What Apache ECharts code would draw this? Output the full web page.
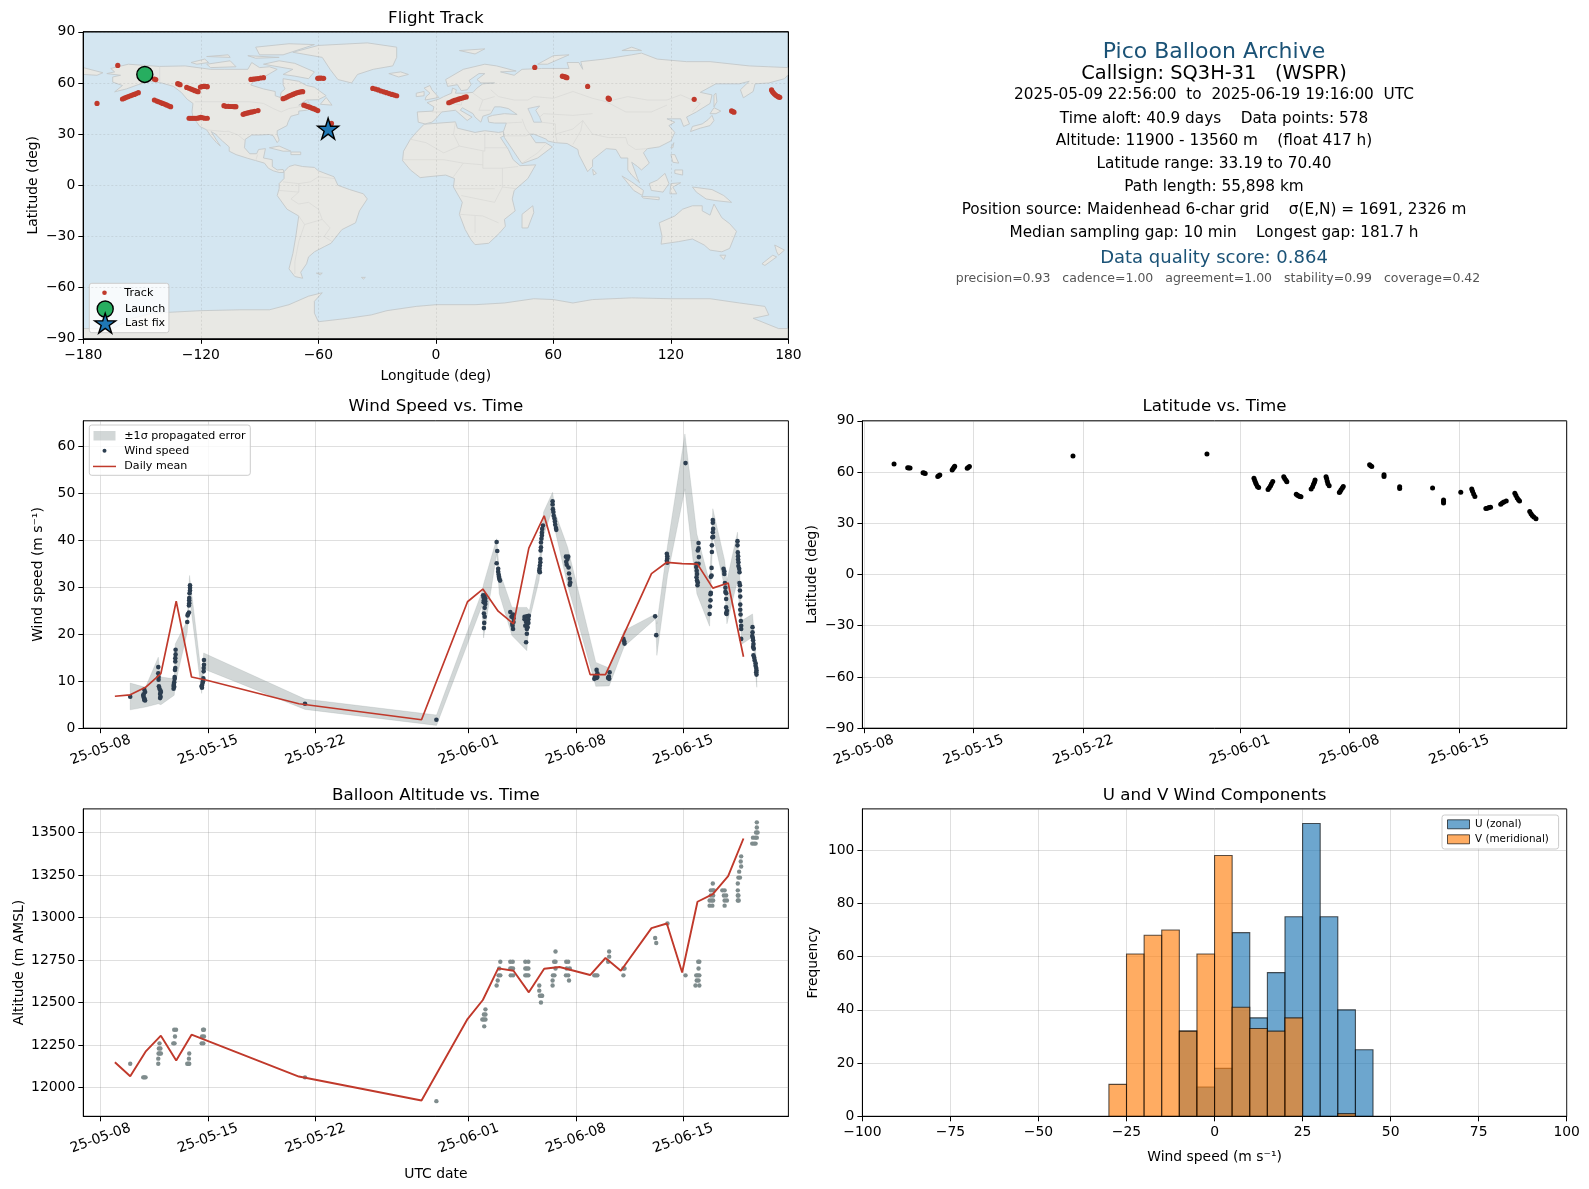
<!DOCTYPE html>
<html><head><meta charset="utf-8">
<style>html,body{margin:0;padding:0;background:#fff}#c{width:1589px;height:1189px}</style>
<script src="https://cdn.jsdelivr.net/npm/echarts@6/dist/echarts.min.js"></script>
</head><body><div id="c"></div>
<script>
const FONT='DejaVu Sans';
// ---------- date ticks (days after 2025-05-08)
const tickDays=[0,7,14,24,31,38];
const tickLabels=['25-05-08','25-05-15','25-05-22','25-06-01','25-06-08','25-06-15'];
const lonTicks=[-180,-120,-60,0,60,120,180];
const latTicks=[-90,-60,-30,0,30,60,90];
const windTicks=[0,10,20,30,40,50,60];
const altTicks=[12000,12250,12500,12750,13000,13250,13500];
const histXTicks=[-100,-75,-50,-25,0,25,50,75,100];
const histYTicks=[0,20,40,60,80,100];

// ---------- map track
const trackPoints=[[-173,48],[-162.4,70.3],[-143.7,62.3],[-143,62],[-131.8,59.6],[-131.2,59.4],[-130.6,59],
[-127.2,57.4],[-126,56.9],[-125,56.4],[-124,56],[-123,55.5],[-122,55.1],[-121.4,54.9],
[-120.2,57.6],[-119.4,57.9],[-118.6,58],[-117.8,58],[-117,57.9],[-116.7,57.8],
[-160,50.6],[-159,51.1],[-158,51.6],[-157,52],[-156,52.5],[-155,52.9],[-154,53.3],[-153,53.8],[-151.9,54.3],
[-143.7,50],[-142.5,49.4],[-141.5,49],[-140.5,48.5],[-139.5,48],[-138.5,47.6],[-137.5,47.1],[-136.5,46.6],[-135.4,46.1],
[-108.2,46.7],[-107.2,46.3],[-106,46.3],[-105,46.2],[-104,46.2],[-103,46.1],[-102.1,46.1],
[-126,39.3],[-125,39.3],[-124,39.3],[-123,39.3],[-122,39.3],[-121,39.5],[-120,39.9],[-119,39.6],[-118,39.3],[-116.7,39.3],
[-98.4,41.6],[-97.5,42],[-96.5,42.3],[-95.5,42.6],[-94.5,42.9],[-93.5,43.1],[-92.5,43.4],[-90.8,43.8],
[-94.4,62.1],[-93.2,62.2],[-92,62.4],[-90.8,62.6],[-89.5,62.9],[-88,63.1],
[-78,50.8],[-77,51.2],[-76,51.7],[-75,52.3],[-74,52.8],[-73,53.3],[-72,53.8],[-71,54.2],[-70,54.5],[-69,54.8],[-68,54.9],
[-67.4,47],[-66.4,46.6],[-65.4,46.2],[-64.4,45.8],[-63.4,45.3],[-62.4,44.9],[-61.4,44.4],[-60.3,43.8],
[-60.3,62.7],[-59.5,62.8],[-58.5,62.8],[-57.3,62.7],
[-32.2,56.8],[-30.8,56.4],[-29.4,55.9],[-28,55.3],[-26.6,54.8],[-25.2,54.3],[-23.8,53.8],[-22.4,53.3],[-21.2,52.9],[-20,52.5],
[6.6,48.4],[7.6,48.8],[8.6,49.3],[9.6,49.8],[10.6,50.1],[11.6,50.5],[12.6,50.9],[13.6,51.2],[14.6,51.6],[15.5,51.8],
[50.5,69.1],[64.6,64],[65.2,63.8],[65.8,63.6],[66.4,63.4],[66.9,63.1],[77.5,58],[88,51.1],[88.3,50.8],[88.6,50.4],
[131.9,50.4],[151,43.6],[151.6,43.2],[152.2,42.9],[171.4,55.9],[171.8,55],[172.3,54.2],[172.9,53.5],[173.6,52.8],[174.4,52.2],[175,51.8],[175.6,51.6],[-53.3,36.3],[-55,33.4]];
const launchPoint=[-148.6,65];
const lastFixPoint=[-55,33.2];

// ---------- land outlines (lon,lat)
const northAmerica=[[-168,65.5],[-164,66.5],[-166,68.5],[-157,71],[-141,69.7],[-128,70],[-115,68],[-108,68],[-96,68],[-94,72],[-90,69],[-85,69.5],[-81,68],[-87,64],[-93,61],[-94.5,58.8],[-88,56.5],[-82,55],[-82,52.5],[-79.5,51.5],[-79,54.5],[-77,56.5],[-78,59],[-78,62.5],[-70,61],[-66,58.5],[-62,57.5],[-56,52.5],[-60,50.2],[-66,50],[-70,47],[-65,49],[-64.5,47],[-61,46],[-66,44],[-70,43.5],[-70,41.7],[-74,40.5],[-75.5,37],[-76,35],[-81,32],[-81,30],[-80,26.5],[-81,25],[-83,29],[-85,29.8],[-90,29.5],[-94,29.5],[-97.3,27],[-97.7,22],[-95,18.5],[-91.5,18.5],[-90.5,21],[-87,21.5],[-88,16],[-83.5,15],[-83.5,11],[-81,9],[-78,9.3],[-77.5,7.5],[-80,7.5],[-83,8.5],[-85.5,10],[-87.5,13],[-92,14.5],[-96,15.8],[-102,18],[-105.5,20],[-105.5,22.5],[-109,26],[-112.5,30],[-114.7,31.5],[-112,26.5],[-110,23],[-112,25],[-115,29],[-117,32.5],[-120.5,34.5],[-124,40],[-124.5,43],[-124,48],[-127,50.5],[-130,54.5],[-134,58],[-140,60],[-146,61],[-152,59],[-158,56.5],[-164,54.8],[-160,58.5],[-165,60.5],[-165,63.5],[-161,64.5]];
const southAmerica=[[-77.5,8],[-75,11],[-72,12],[-68,11],[-62,10.5],[-60,8.5],[-52,5],[-50,0],[-44,-2.5],[-37,-5],[-35,-8],[-39,-15],[-41,-22],[-48,-26],[-53.5,-34],[-57,-36],[-62,-39],[-65,-42],[-66,-46],[-69,-51],[-68,-54.5],[-72,-53.5],[-75,-49],[-73,-40],[-71.5,-30],[-70,-18],[-76,-14],[-81,-6],[-80,-2],[-80,1],[-77.5,4]];
const africa=[[-6,35.8],[10,37.2],[11,33.5],[20,31],[25,32],[32,31],[34.5,31.5],[34.8,29],[33,28],[37,21],[39.5,15],[43,11.5],[51,12],[47,4],[40,-3],[39,-8],[40.5,-15],[35,-20],[35.5,-24],[32.5,-28],[27,-34],[20,-34.8],[18,-32],[15,-26],[12,-17],[13.5,-10],[9,-1],[9.5,4],[5,6],[-4,5],[-8,4.5],[-13,9],[-17,14.5],[-16.5,20],[-13,27],[-10,31]];
const eurasia=[[-9,37],[-9.5,43],[-1.5,43.5],[-1,46],[-4.5,48.5],[1.5,50.5],[4,52],[8,54],[8.5,57],[10.5,56],[10,54],[14,54],[19,54.5],[21,57],[24,59.5],[30,60],[23,60],[21,62],[25,65.5],[22,65.5],[17,61.5],[18,59],[16,56],[13,55.5],[11,59],[6,58],[5,62],[14,68],[25,71],[31,70],[41,67],[33,66.5],[40,64.5],[44,68],[54,68.5],[68,68.5],[67,72],[73,72],[75,68],[74,72.5],[86,74],[100,76.5],[105,77.5],[113,74],[128,72.5],[140,72.5],[160,70],[170,69.5],[180,69],[180,65],[178,62.5],[170,60],[163,59.5],[162,55],[157,51.3],[155.5,56],[160,61],[155,59.5],[143,59.5],[135,54.5],[141,53],[140,48],[133,43],[128,40],[129.5,36],[126.5,34.5],[125,39],[121,39],[118,39],[122,37],[119,35],[122,31],[120,26],[114,22.5],[108,21.5],[106,19],[109,13],[105,9],[103,11],[100,13.5],[103,4],[104,1.5],[100,6],[98,9],[98,16],[94.5,16],[92,21],[87,21.5],[80,15],[80,11],[77.5,8],[73,18],[72.5,21],[67,24.5],[61,25],[57,26],[56.5,27],[50,30],[48,30],[51,25],[56,25],[59.5,22.5],[52,16],[44,12.7],[42,16],[35,28],[34.5,31.5],[36,36.5],[30,36.5],[27,37],[26.5,40],[29,41],[35,42],[41.5,41.5],[37,45],[33,46],[30,46],[28,42],[24,40.5],[23,37],[20,40],[19,42],[13.5,45.5],[12.5,44],[18.5,40],[16,38],[10,44],[3,43],[0,39],[-2,37],[-5.5,36]];
const chukotkaWest=[[-180,69],[-170,66],[-173,64.5],[-180,65]];
const greenland=[[-73,78],[-60,82],[-35,83.5],[-20,81],[-20,75],[-22,70],[-32,68],[-40,65],[-43,60],[-50,62],[-54,68],[-58,75]];
const australia=[[114,-22],[122,-18],[126,-14],[131,-12],[136,-12],[136,-15],[140,-17.5],[142,-11],[146,-19],[150,-22.5],[153.5,-27],[150,-37],[146,-39],[140,-38],[137,-35],[131,-31.5],[124,-33],[115,-34.5],[115.5,-30]];
const antarctica=[[-180,-84],[-165,-84],[-155,-78],[-145,-75],[-120,-73.5],[-100,-73],[-85,-73],[-75,-70],[-65,-65],[-58,-63],[-62,-68],[-62,-75],[-60,-80],[-45,-78],[-33,-76],[-25,-73.5],[-10,-71],[0,-70],[20,-70],[35,-69],[50,-66.5],[60,-67],[70,-69],[80,-67],[100,-66],[120,-66.5],[140,-66.5],[155,-69],[168,-71],[170,-76],[162,-78],[175,-84],[180,-84],[180,-90],[-180,-90]];
const islands=[
[[-80,73],[-72,71.5],[-62,66.5],[-65,62.5],[-72,64],[-78,65],[-73,68],[-88,71]],
[[-117,71],[-105,73],[-102,69.5],[-115,69]],
[[-90,76.5],[-78,76.5],[-62,82.5],[-75,83],[-92,81]],
[[-125,72],[-118,74],[-116,72],[-122,71]],
[[-96,76],[-80,75],[-92,74.5]],
[[-117,75.5],[-106,76.5],[-105,75]],
[[-59,47.5],[-53,47],[-56,51.5]],
[[-24,65.5],[-18,66.5],[-14,65],[-19,63.5]],
[[-5.5,50],[1.5,51.5],[-2,56],[-3,58.5],[-6,57],[-3,54],[-5,52]],
[[-10,52],[-6,52.5],[-6,55],[-10,54]],
[[12,79],[25,80],[20,77]],
[[52,71],[57,71],[68,76.5],[60,76]],
[[95,79],[105,79],[100,81]],
[[130,31.5],[131,34.5],[136,36],[139,38.5],[141,41],[142,38],[140,35],[135,33.5]],
[[140,42],[142,45.5],[145.5,43.5],[143,42]],
[[142,46],[143.5,49],[143,54],[142,53]],
[[120,22],[121.5,25],[121,22]],
[[80,9.5],[82,7],[80.5,6]],
[[120,18],[122,18],[124,13],[121,13.5]],
[[122,9],[126,9],[126,6],[122,7]],
[[109,1],[113,3],[117,7],[119,1],[116,-4],[110,-3]],
[[95,5.5],[100,2],[106,-3],[105.5,-6],[101,-3]],
[[105,-6.5],[114,-7],[114,-8.5],[106,-7.5]],
[[119.5,-5],[120,1],[125,1.5],[121,-1],[123,-5]],
[[131,-1],[141,-2.5],[147,-6],[151,-10],[143,-9],[138,-8],[133,-4]],
[[145,-41],[148,-41],[147,-43.5]],
[[173,-35],[178,-38],[175,-41],[174,-39]],
[[172,-41],[174,-42],[168,-47],[166.5,-46]],
[[49.5,-12],[50,-16],[47,-25],[44,-25],[44,-17]],
[[-85,22],[-80,23],[-74,20],[-78,20]],
[[-74,19.5],[-69,19.5],[-69,18],[-74,18]],
[[-61,-51.5],[-58,-51.5],[-59,-52.5]],
[[-38,-54],[-36,-54],[-37,-55]]];
const caspianSea=[[47,45],[53,46.5],[51,44],[53,40],[54,37],[50,37],[49,40]];
const landPolygons=[northAmerica,southAmerica,africa,eurasia,chukotkaWest,greenland,australia,antarctica,...islands];
const borders=[
[[-123,49],[-95,49],[-88,48],[-83,45],[-79,43],[-75,45],[-70,46],[-67,47],[-67,45]],
[[-141,69.7],[-141,60]],
[[-117,32.5],[-108,31.5],[-106,31.7],[-101,29.5],[-97.3,26]],
[[-92,14.5],[-91,18]],
[[-52,4],[-60,5],[-64,2],[-70,1],[-70,-4],[-74,-8],[-70,-11],[-65,-10],[-60,-14],[-58,-20],[-54,-25],[-57,-30],[-53,-33]],
[[-70,-18],[-67,-23],[-70,-33],[-72,-45],[-72,-52]],
[[-58,-20],[-67,-23]],[[-70,1],[-78,2]],[[-70,-4],[-80,-3]],
[[10,37],[9,30],[12,23],[25,20],[25,31]],[[25,22],[37,22]],[[24,20],[24,10],[34,10]],[[34,10],[34,-1],[30,-10],[13,-6]],
[[12,23],[4,19],[-5,25],[-13,27]],[[-17,15],[4,15],[14,13],[24,12]],[[14,13],[9,5]],[[10,-2],[30,-2]],
[[12,-17],[24,-18],[32,-22]],[[20,-28],[20,-18]],[[34,10],[42,11]],[[34,-1],[41,-2]],
[[28,56],[32,52],[40,50],[47,50],[50,52],[60,51],[70,55],[80,51],[87,49],[98,52],[108,50],[118,50],[125,53],[135,48],[131,43]],
[[87,49],[97,43],[110,43],[118,47]],[[75,38],[80,30],[88,28],[97,28],[98,24],[102,21],[108,21.5]],
[[62,25],[61,30],[70,33],[75,38],[74,32],[70,24]],[[44,39],[46,33],[48,30]],[[61,30],[61,36],[54,37]],
[[5,50],[8,48],[13,47],[14,54]],[[19,54],[24,50],[22,44],[28,44]],[[24,50],[30,52]],[[36,36.5],[44,37]],
[[35,29],[46,29],[48,30]],[[44,13],[52,19],[56,24]],[[-2,43],[3,43]],[[80,42],[70,41],[55,42],[53,40]]];

// ---------- wind speed
const windPoints=[[1.93,6.7],[2.85,8.2],[2.9,7.7],[2.8,7.2],[2.78,6.9],[2.82,6.5],[2.87,6.2],[2.9,5.9],[2.85,6.0],
[3.76,13.0],[3.76,11.7],[3.78,10.9],[3.78,10.3],[3.8,8.9],[3.84,8.4],[3.9,8.0],[3.93,7.7],[3.88,7.3],[3.91,6.7],[3.88,6.4],
[4.89,16.7],[4.89,15.7],[4.87,14.9],[4.87,14.2],[4.87,12.8],[4.85,12.4],[4.83,10.9],[4.83,10.5],[4.8,9.8],[4.78,9.4],[4.76,9.0],[4.76,8.4],[4.8,8.8],
[5.83,30.4],[5.83,29.9],[5.83,29.3],[5.8,28.7],[5.78,27.7],[5.78,27.2],[5.78,26.6],[5.76,26.1],[5.76,24.6],[5.7,24.3],[5.67,24],[5.65,22.6],
[6.74,14.5],[6.74,13.5],[6.72,12.8],[6.72,12.1],[6.7,10.6],[6.68,10],[6.65,9.6],[6.61,9.1],[6.59,8.9],[6.61,8.6],
[13.33,5.2],[21.9,1.8],
[24.95,28.3],[25.05,28.2],[24.98,27.8],[25.09,27.6],[25,27.2],[25.09,27],[24.98,26.8],[25.09,26.4],[25.05,25.6],[25,24.4],[25.05,23.7],[25.02,22.4],[25,21.3],
[25.83,39.6],[25.87,37.7],[25.83,35.1],[25.93,33.9],[25.93,33.3],[25.96,32.7],[25.98,32.2],[26,31.8],[26.05,31.4],
[26.72,24.7],[26.9,24.2],[26.8,23.7],[26.93,23.4],[26.93,22.6],[26.85,22.2],[26.87,21.8],[26.9,21.1],
[27.65,23.7],[27.8,23.8],[27.93,23.9],[27.65,23.2],[27.9,23.2],[27.75,22.6],[27.9,22.4],[27.7,21.8],[27.85,21.5],[27.8,21.1],[27.8,20.1],[27.75,18.3],
[28.85,43.1],[28.8,42.4],[28.78,41.6],[28.78,41],[28.75,40.3],[28.72,39.5],[28.72,38.5],[28.7,37.8],[28.68,36],[28.68,35.3],[28.65,34.6],[28.63,34],[28.61,33.5],[28.65,33.2],
[29.48,48.3],[29.48,47.6],[29.5,46.6],[29.53,46],[29.55,45.2],[29.6,44.6],[29.63,44],[29.65,43.3],[29.7,42.6],[29.72,42.2],
[30.35,36.5],[30.5,36.5],[30.45,36],[30.37,35.4],[30.4,34.8],[30.52,34.2],[30.55,32.9],[30.6,31.8],[30.63,31],[30.6,30.5],
[32.35,12.4],[32.4,11.7],[32.25,11],[32.35,10.7],[32.2,10.5],[32.4,10.9],[33.2,11.9],[33.15,11],[33.1,10.7],[33.17,10.5],
[34.1,19],[34.15,18.5],[34.17,18],[36.17,23.8],[36.24,19.8],
[36.93,37.1],[36.96,36.6],[36.96,36.1],[36.93,35.6],[36.96,35.2],[38.15,56.4],
[39,39.4],[39,38.3],[38.95,37.8],[39.02,36.4],[39,35],[38.85,35],[38.85,34.3],[38.88,33.5],[38.9,32.8],[38.87,32.1],[38.9,31.4],[38.93,30.4],[38.95,31],
[39.93,44.3],[39.93,43.7],[39.95,42.4],[39.93,41.7],[39.95,40.7],[39.9,40.6],[39.87,38.9],[39.87,37.5],[39.85,34.1],[39.85,32.5],[39.8,32.2],[39.8,28.8],[39.78,28.5],[39.78,27.2],[39.75,25.9],[39.72,24.3],
[40.63,33.9],[40.68,33.4],[40.68,32.8],[40.72,30.9],[40.75,29.9],[40.75,29],[40.8,28.7],[40.8,27.5],[40.8,25.7],[40.85,25],[40.8,24.5],[40.83,24.3],
[41.54,39.8],[41.54,38.9],[41.56,37.4],[41.58,36.6],[41.58,35.9],[41.6,35.3],[41.6,34.5],[41.65,33.9],[41.67,33.2],[41.67,30.9],[41.7,30.4],[41.7,29.3],[41.72,28],[41.72,26.3],[41.72,25.2],[41.74,24.2],[41.76,22.8],[41.78,21.8],[41.78,21.1],[41.78,19],
[42.52,21.5],[42.52,20.4],[42.5,19.6],[42.54,19.2],[42.56,18.7],[42.58,17.9],[42.56,17.3],[42.6,16.9],[42.58,15.5],[42.63,15],[42.66,14.4],[42.72,13.8],[42.72,13.3],[42.76,12.8],[42.78,12.3],[42.76,11.9],[42.78,11.4]];
const windMean=[[0.93,6.8],[1.93,7.1],[2.93,8.7],[3.93,11.6],[4.93,27],[5.93,10.9],[6.93,10.2],[12.93,5.2],[20.93,1.8],[23.93,26.9],[24.93,29.6],[25.93,24.9],[26.93,22.2],[27.93,38.3],[28.93,45.2],[31.93,11.4],[32.93,11.4],[35.93,32.9],[36.93,35.3],[37.93,35],[38.93,34.9],[39.93,29.8],[40.93,30.9],[41.93,15.2]];
const bandDays=[1.93,2.93,3.76,3.93,4.8,4.87,5.65,5.8,6.59,6.72,13.33,21.91,24.87,24.98,25.83,26,26.83,27.8,27.96,28.6,28.89,29.48,29.67,30.46,32.3,33.17,34.15,36.2,36.28,36.98,38.11,38.89,39.72,39.93,40.7,40.85,41.54,41.83,42.52,42.8];
const bandLow=[3.9,4.5,5.2,5,7,9.4,20.4,27.9,7.4,12.6,4,0.6,26,19.2,37.1,28.6,19.7,16.5,22.9,31.5,41,46.7,41.7,30.4,8.9,9,17.4,23.3,15.5,32.5,50.9,28.6,21.7,41.3,30,22.2,31.4,17.9,19.4,8.7];
const bandHigh=[9.6,8.7,15.1,10.9,10.5,17.9,22.9,32.5,10.9,16,6.2,2.8,29,30.7,40.3,33.5,25.7,25.7,25,35,46,50.2,45.6,38.5,14,12.8,20.8,24.3,22.2,38.9,62.6,41.3,31,46.7,35.7,31.4,41.7,22.9,24.3,13.3];

// ---------- latitude
const latitudePoints=[[1.93,64.7],[2.8,62.5],[2.87,62.4],[2.95,62.3],[3.78,59.6],[3.85,59.4],[3.92,59.2],[4.72,57.4],[4.78,57.8],[4.85,58.2],
[5.64,61.2],[5.7,62],[5.76,62.8],[5.8,63.4],[6.6,62.2],[6.66,62.7],[6.74,63.2],[13.35,69.4],[21.9,70.6],
[24.9,56.3],[24.95,55],[25,53.8],[25.05,52.8],[25.12,51.6],[25.2,51],
[26.1,54.5],[26.02,53.2],[25.96,52],[25.88,50.8],[25.8,49.8],
[26.8,57.3],[26.86,56.2],[26.94,55.2],[27,54.3],
[27.6,47],[27.68,46.4],[27.76,46],[27.84,45.7],[27.9,45.5],
[28.8,55.3],[28.76,54],[28.7,52.8],[28.64,51.4],[28.55,50],
[29.5,57.3],[29.54,56],[29.58,54.6],[29.62,53.2],[29.7,52],
[30.6,51.6],[30.54,50.6],[30.46,49.6],[30.4,48.6],[30.35,48],
[32.28,64.2],[32.35,63.7],[32.42,63.2],[33.2,58.4],[33.2,57.4],[34.2,51.4],[34.2,50.4],[36.3,50.6],[37,43.6],[37,42.7],[37,41.9],[38.1,48.2],
[38.8,50],[38.85,48.8],[38.92,47.2],[39,45.7],
[39.7,38.6],[39.8,38.8],[39.9,39.2],[40,39.4],
[40.65,41.2],[40.75,41.8],[40.85,42.5],[41,43],
[41.55,47.6],[41.62,46.2],[41.7,44.8],[41.78,43.8],[41.85,43],
[42.5,36.9],[42.58,35.6],[42.66,34.6],[42.76,33.6],[42.9,32.7]];

// ---------- altitude
const altitudePoints=[[1.93,12140],[2.78,12060],[2.85,12060],[2.93,12060],
[3.84,12260],[3.8,12230],[3.9,12230],[3.78,12200],[3.85,12200],[3.93,12200],[3.76,12170],[3.76,12140],
[4.8,12340],[4.92,12340],[4.85,12300],[4.74,12260],[4.82,12260],
[5.78,12200],[5.76,12170],[5.65,12140],[5.72,12140],[5.78,12140],
[6.68,12340],[6.74,12340],[6.62,12300],[6.74,12300],[6.59,12260],[6.7,12260],[13.33,12060],[21.9,11920],
[25.1,12460],[25,12430],[25.1,12430],[24.9,12400],[25,12400],[25.1,12400],[25.02,12360],
[26.07,12740],[26,12700],[26.07,12660],[25.96,12660],[25.9,12630],[25.83,12600],
[26.72,12740],[26.88,12740],[26.8,12700],[26.72,12700],[26.9,12700],[26.75,12660],[26.9,12660],
[27.7,12740],[27.9,12740],[27.7,12700],[27.8,12700],[27.9,12700],[27.7,12660],[27.8,12660],[27.9,12660],
[28.61,12600],[28.61,12570],[28.65,12540],[28.75,12540],[28.8,12540],[28.72,12500],
[29.67,12800],[29.58,12740],[29.67,12740],[29.67,12700],[29.5,12660],[29.6,12660],[29.48,12630],[29.48,12600],
[30.37,12740],[30.5,12740],[30.6,12700],[30.4,12700],[30.35,12660],[30.5,12660],[30.55,12630],
[32.2,12660],[32.3,12660],[32.4,12660],[33.17,12800],[33.17,12770],[33.1,12740],[34.17,12700],[34.1,12700],[34.1,12660],
[36.17,12880],[36.24,12850],[36.97,12965],[38.15,12660],
[38.98,12740],[39.05,12740],[39,12700],[38.85,12660],[38.95,12660],[39.05,12660],[38.88,12630],[39,12630],[38.8,12600],[39.05,12600],
[39.93,13200],[39.8,13160],[39.93,13160],[40,13160],[39.8,13130],[39.95,13130],[39.72,13100],[39.85,13100],[39.95,13100],[39.72,13070],[39.9,13070],
[40.55,13160],[40.7,13160],[40.65,13130],[40.8,13130],[40.7,13100],[40.85,13100],[40.7,13070],
[41.78,13360],[41.75,13330],[41.78,13300],[41.65,13270],[41.6,13235],[41.7,13235],[41.56,13200],[41.56,13160],[41.56,13130],[41.6,13130],[41.56,13100],[41.62,13100],
[42.8,13560],[42.8,13530],[42.75,13500],[42.85,13500],[42.55,13470],[42.7,13470],[42.8,13470],[42.5,13435],[42.62,13435],[42.72,13435]];
const altitudeMean=[[0.93,12149],[1.93,12067],[2.93,12211],[3.93,12305],[4.93,12159],[5.93,12311],[6.93,12276],[12.93,12065],[20.93,11924],[23.93,12403],[24.93,12515],[25.93,12701],[26.93,12687],[27.93,12560],[28.93,12699],[29.93,12709],[31.93,12662],[32.93,12762],[33.93,12687],[35.93,12938],[36.93,12965],[37.93,12677],[38.93,13093],[39.93,13138],[40.93,13243],[41.93,13465]];

// ---------- histogram (bin start, count); bins are 5 m/s wide
const uBins=[[-10,32],[-5,11],[0,18],[5,69],[10,37],[15,54],[20,75],[25,110],[30,75],[35,40],[40,25]];
const vBins=[[-30,12],[-25,61],[-20,68],[-15,70],[-10,32],[-5,61],[0,98],[5,41],[10,33],[15,32],[20,37],[35,1]];
const binWidth=5;

// ---------- text
const infoLines=[
 ['Pico Balloon Archive',22,'#1a5276',52,1214],
 ['Callsign: SQ3H-31   (WSPR)',19.4,'#000',74,1214],
 ['2025-05-09 22:56:00  to  2025-06-19 19:16:00  UTC',15.3,'#000',95.5,1214],
 ['Time aloft: 40.9 days    Data points: 578',15.3,'#000',118.6,1214],
 ['Altitude: 11900 - 13560 m    (float 417 h)',15.3,'#000',141,1214],
 ['Latitude range: 33.19 to 70.40',15.3,'#000',164.2,1214],
 ['Path length: 55,898 km',15.3,'#000',187.5,1214],
 ['Position source: Maidenhead 6-char grid    σ(E,N) = 1691, 2326 m',15.3,'#000',210,1214],
 ['Median sampling gap: 10 min    Longest gap: 181.7 h',15.3,'#000',233,1214],
 ['Data quality score: 0.864',18,'#1a5276',258.4,1214],
 ['precision=0.93   cadence=1.00   agreement=1.00   stability=0.99   coverage=0.42',12.5,'#555',278.7,1218]];

const STAR='path://M0 -100L22.4 -30.9L95.1 -30.9L36.3 11.8L58.8 80.9L0 38.2L-58.8 80.9L-36.3 11.8L-95.1 -30.9L-22.4 -30.9Z';
const GRIDS=[[83.3,31.8,705.1,307],[862.4,31.8,704.3,307],[83.3,420.8,705.1,307.4],[862.4,420.8,704.3,307.4],[83.3,808.9,705.1,307.4],[862.4,808.9,704.3,307.4]];
// grid indices: 0 map, 2 wind, 3 latitude, 4 altitude, 5 histogram
const grids=[0,2,3,4,5].map(i=>({left:GRIDS[i][0],top:GRIDS[i][1],width:GRIDS[i][2],height:GRIDS[i][3],show:true,borderColor:'#000',borderWidth:1,
  backgroundColor:i===0?'#d4e6f1':'#fff',containLabel:false}));
const tickStyle={show:true,length:5,lineStyle:{color:'#000',width:1}};
const gridStyle={show:true,lineStyle:{color:'rgba(128,128,128,0.25)',width:1}};
const lbl={color:'#000',fontFamily:FONT,fontSize:13.9,hideOverlap:false};
const nameStyle={color:'#000',fontFamily:FONT,fontSize:13.9};
const minus=v=>String(v).replace('-','\u2212');
function valAxis(o){
  const a={type:'value',gridIndex:o.g,min:o.min,max:o.max,scale:true,
    axisLine:{show:true,onZero:false,lineStyle:{color:'#000',width:1}},
    axisTick:Object.assign({},tickStyle,{customValues:o.ticks}),
    axisLabel:Object.assign({},lbl,{customValues:o.ticks,margin:o.margin||8,formatter:o.fmt||minus},o.label||{}),
    splitLine:o.split||gridStyle,
    z:o.z||0};
  if(o.name){a.name=o.name;a.nameLocation='middle';a.nameGap=o.gap;a.nameTextStyle=nameStyle;}
  return a;
}
const dateFmt=v=>tickLabels[tickDays.indexOf(v)];
const dateLabel={rotate:20,align:'center',verticalAlign:'middle',margin:22,formatter:dateFmt};
const yLab={padding:[2,0,0,0]};
const mapSplit={show:true,lineStyle:{color:'rgba(128,128,128,0.25)',width:0.7,type:[2,2]}};
const xAxes=[
 valAxis({g:0,min:-180,max:180,ticks:lonTicks,name:'Longitude (deg)',gap:31,split:mapSplit,z:3,margin:9.5}),
 valAxis({g:1,min:-1.13,max:44.86,ticks:tickDays,label:dateLabel}),
 valAxis({g:2,min:-0.09,max:44.86,ticks:tickDays,label:dateLabel}),
 valAxis({g:3,min:-1.13,max:44.86,ticks:tickDays,label:dateLabel,name:'UTC date',gap:51}),
 valAxis({g:4,min:-100,max:100,ticks:histXTicks,name:'Wind speed (m s\u207b\u00b9)',gap:34,margin:9})];
const yAxes=[
 valAxis({g:0,min:-90,max:90,ticks:latTicks,name:'Latitude (deg)',gap:43,split:mapSplit,z:3,label:yLab}),
 valAxis({g:1,min:0,max:65.4,ticks:windTicks,name:'Wind speed (m s\u207b\u00b9)',gap:38,label:yLab}),
 valAxis({g:2,min:-90,max:90,ticks:latTicks,name:'Latitude (deg)',gap:43,label:yLab}),
 valAxis({g:3,min:11831,max:13639,ticks:altTicks,name:'Altitude (m AMSL)',gap:57,fmt:v=>String(v),label:yLab}),
 valAxis({g:4,min:0,max:115.5,ticks:histYTicks,name:'Frequency',gap:42,label:yLab})];

function polyRender(list,style){
  return function(params,api){
    const pts=list[params.dataIndex].map(p=>api.coord(p));
    return {type:'polygon',shape:{points:pts},style};
  };
}
function lineRender(list,style){
  return function(params,api){
    const pts=list[params.dataIndex].map(p=>api.coord(p));
    return {type:'polyline',shape:{points:pts},style};
  };
}
function histRender(bins,color){
  return function(params,api){
    const b=bins[params.dataIndex];
    const p0=api.coord([b[0],0]),p1=api.coord([b[0]+binWidth,b[1]]);
    return {type:'rect',shape:{x:p0[0],y:p1[1],width:p1[0]-p0[0],height:p0[1]-p1[1]},
      style:{fill:color,stroke:'#000',lineWidth:1.1,opacity:0.65}};
  };
}
function bandRender(params,api){
  const up=bandDays.map((d,i)=>api.coord([d,bandHigh[i]]));
  const lo=bandDays.map((d,i)=>api.coord([d,bandLow[i]])).reverse();
  return {type:'polygon',shape:{points:up.concat(lo)},style:{fill:'#7f8c8d',opacity:0.35,stroke:'#7f8c8d',lineWidth:0.5}};
}
const series=[
 {type:'custom',name:'land',coordinateSystem:'cartesian2d',xAxisIndex:0,yAxisIndex:0,z:2,clip:true,silent:true,
  data:landPolygons.map((_,i)=>[i,0]),encode:{x:1,y:1},
  renderItem:polyRender(landPolygons,{fill:'#e8e8e4',stroke:'#c4c8ca',lineWidth:0.9})},
 {type:'custom',name:'caspian',coordinateSystem:'cartesian2d',xAxisIndex:0,yAxisIndex:0,z:2,clip:true,silent:true,
  data:[[0,0]],encode:{x:1,y:1},renderItem:polyRender([caspianSea],{fill:'#d4e6f1',stroke:'#c4c8ca',lineWidth:0.8})},
 {type:'custom',name:'borders',coordinateSystem:'cartesian2d',xAxisIndex:0,yAxisIndex:0,z:2,clip:true,silent:true,
  data:borders.map((_,i)=>[i,0]),encode:{x:1,y:1},renderItem:lineRender(borders,{fill:'none',stroke:'#d8d9d6',lineWidth:0.7})},
 {type:'scatter',name:'Track',xAxisIndex:0,yAxisIndex:0,z:4,symbolSize:5.2,itemStyle:{color:'#c0392b',opacity:1},data:trackPoints},
 {type:'scatter',name:'Launch',xAxisIndex:0,yAxisIndex:0,z:5,symbolSize:16,itemStyle:{color:'#27ae60',borderColor:'#000',borderWidth:1.4,opacity:1},data:[launchPoint]},
 {type:'scatter',name:'Last fix',xAxisIndex:0,yAxisIndex:0,z:5,symbol:STAR,symbolSize:21,itemStyle:{color:'#1f77b4',borderColor:'#000',borderWidth:1.4,opacity:1},data:[lastFixPoint]},
 {type:'custom',name:'\u00b11\u03c3 propagated error',coordinateSystem:'cartesian2d',xAxisIndex:1,yAxisIndex:1,z:2,clip:true,silent:true,
  data:[[bandDays[0],bandLow[0]]],renderItem:bandRender,encode:{x:0,y:1}},
 {type:'scatter',name:'Wind speed',xAxisIndex:1,yAxisIndex:1,z:3,symbolSize:4.6,itemStyle:{color:'#2c3e50',opacity:1},data:windPoints},
 {type:'line',name:'Daily mean',xAxisIndex:1,yAxisIndex:1,z:4,symbol:'none',lineStyle:{color:'#c0392b',width:1.7},itemStyle:{color:'#c0392b'},data:windMean},
 {type:'scatter',name:'Latitude',xAxisIndex:2,yAxisIndex:2,z:3,symbolSize:5,itemStyle:{color:'#000',opacity:1},data:latitudePoints},
 {type:'scatter',name:'Altitude',xAxisIndex:3,yAxisIndex:3,z:3,symbolSize:4.4,itemStyle:{color:'#7f8c8d',opacity:1},data:altitudePoints},
 {type:'line',name:'Altitude mean',xAxisIndex:3,yAxisIndex:3,z:4,symbol:'none',lineStyle:{color:'#c0392b',width:1.9},data:altitudeMean},
 {type:'custom',name:'U (zonal)',coordinateSystem:'cartesian2d',xAxisIndex:4,yAxisIndex:4,z:3,clip:true,silent:true,itemStyle:{color:'#1f77b4'},
  data:uBins,encode:{x:0,y:1},renderItem:histRender(uBins,'#1f77b4')},
 {type:'custom',name:'V (meridional)',coordinateSystem:'cartesian2d',xAxisIndex:4,yAxisIndex:4,z:4,clip:true,silent:true,itemStyle:{color:'#ff7f0e'},
  data:vBins,encode:{x:0,y:1},renderItem:histRender(vBins,'#ff7f0e')}
];
function legendRow(name,icon,cx,cy,w,h,textX,fs,style){
  return {show:true,orient:'horizontal',left:cx-w/2,top:cy-Math.max(h,fs)/2,itemWidth:w,itemHeight:h,padding:0,itemGap:0,selectedMode:false,
    data:[{name,icon,itemStyle:style}],formatter:n=>n,
    textStyle:{color:'#000',fontFamily:FONT,fontSize:fs,padding:[0,0,0,textX-(cx+w/2)-5]}};
}
const legends=[
 legendRow('Track','circle',104.5,292.8,4.6,4.6,124.3,11.1,{color:'#c0392b',borderWidth:0,opacity:1}),
 legendRow('Launch','circle',104.5,308.3,16,16,124.3,11.1,{color:'#27ae60',borderColor:'#000',borderWidth:1.4}),
 legendRow('Last fix',STAR,104.5,323,21,21,124.3,11.1,{color:'#1f77b4',borderColor:'#000',borderWidth:1.4}),
 legendRow('\u00b11\u03c3 propagated error','rect',104.5,435.8,22,9.5,124.3,11.1,{color:'#7f8c8d',opacity:0.35,borderWidth:0}),
 legendRow('Wind speed','circle',104.5,450.8,4,4,124.3,11.1,{color:'#2c3e50',borderWidth:0,opacity:1}),
 legendRow('Daily mean','rect',104.5,466.5,23,1.5,124.3,11.1,{color:'#c0392b',borderWidth:0}),
 legendRow('U (zonal)','rect',1458,824.5,22,9,1474.5,10.4,{color:'#1f77b4',opacity:0.65,borderColor:'#000',borderWidth:1}),
 legendRow('V (meridional)','rect',1458,839.5,22,9,1474.5,10.4,{color:'#ff7f0e',opacity:0.65,borderColor:'#000',borderWidth:1})];
const titles=[['Flight Track',GRIDS[0],19],['Wind Speed vs. Time',GRIDS[2],407],['Latitude vs. Time',GRIDS[3],407],
 ['Balloon Altitude vs. Time',GRIDS[4],796],['U and V Wind Components',GRIDS[5],796]].map(t=>({
   text:t[0],left:t[1][0]+t[1][2]/2,top:t[2]-10,textAlign:'center',padding:0,
   textStyle:{color:'#000',fontFamily:FONT,fontSize:16.7,fontWeight:'normal',lineHeight:20}}));
const legendBox=(x,y,w,h)=>({type:'rect',z:3,shape:{x,y,width:w,height:h,r:2.5},style:{fill:'rgba(255,255,255,0.8)',stroke:'#cccccc',lineWidth:1}});
const graphics=[
 {type:'rect',z:6,shape:{x:GRIDS[0][0],y:GRIDS[0][1],width:GRIDS[0][2],height:GRIDS[0][3]},style:{fill:'none',stroke:'#000',lineWidth:1},silent:true},
 legendBox(89.3,283.3,79.6,49.4),legendBox(89.3,425,161,50.3),legendBox(1442,815,116.6,34),
 ...infoLines.map(l=>({type:'text',z:5,x:l[4],y:l[3],style:{text:l[0],fontFamily:FONT,fontSize:l[1],fill:l[2],align:'center',verticalAlign:'middle'}}))];
const chart=echarts.init(document.getElementById('c'),null,{renderer:'canvas',width:1589,height:1189});
chart.setOption({animation:false,backgroundColor:'#fff',grid:grids,xAxis:xAxes,yAxis:yAxes,series,legend:legends,title:titles,graphic:graphics,tooltip:{show:false}});
</script></body></html>
